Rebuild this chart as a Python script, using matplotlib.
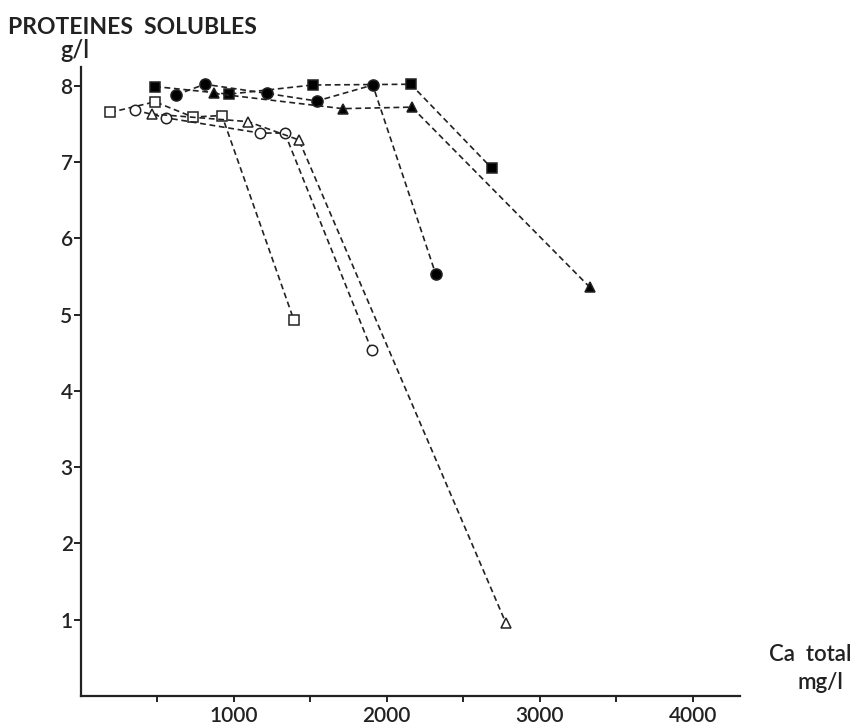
import numpy as np
import matplotlib
matplotlib.use('Agg')
import matplotlib.pyplot as plt

plt.rcParams['font.family'] = ['Lato', 'DejaVu Sans']

# Ca total (mg/l) and soluble proteins (g/l)
sq_full_x = [484, 967, 1516, 2157, 2686]
sq_full_y = [7.99, 7.89, 8.01, 8.02, 6.92]

circ_full_x = [621, 810, 1216, 1542, 1908, 2320]
circ_full_y = [7.88, 8.02, 7.90, 7.80, 8.01, 5.53]

tri_full_x = [869, 1712, 2163, 3327]
tri_full_y = [7.90, 7.70, 7.72, 5.36]

sq_open_x = [190, 484, 732, 922, 1392]
sq_open_y = [7.65, 7.79, 7.59, 7.61, 4.93]

circ_open_x = [353, 556, 1170, 1333, 1902]
circ_open_y = [7.68, 7.58, 7.38, 7.38, 4.53]

tri_open_x = [464, 1092, 1425, 2778]
tri_open_y = [7.63, 7.53, 7.29, 0.96]

x_ticks = [500, 1000, 1500, 2000, 2500, 3000, 3500, 4000]
x_labels = ['', '1000', '', '2000', '', '3000', '', '4000']
y_ticks = [1, 2, 3, 4, 5, 6, 7, 8]

fig = plt.figure(figsize=(8.57, 7.25), dpi=100)
ax = fig.add_axes([0.0945, 0.04, 0.769, 0.868])

dash = (0, (3.5, 2.2))
series = [
    (sq_full_x, sq_full_y, 's', 'k', 7),
    (circ_full_x, circ_full_y, 'o', 'k', 8),
    (tri_full_x, tri_full_y, '^', 'k', 7.5),
    (sq_open_x, sq_open_y, 's', 'white', 6.5),
    (circ_open_x, circ_open_y, 'o', 'white', 7.5),
    (tri_open_x, tri_open_y, '^', 'white', 7),
]
for xs, ys, mk, fc, ms in series:
    ax.plot(xs, ys, linestyle=dash, color='#222222', linewidth=1.2,
            marker=mk, markerfacecolor=fc, markeredgecolor='#222222',
            markeredgewidth=1.1, markersize=ms, zorder=3)

ax.set_xlim(0, 4310)
ax.set_ylim(0, 8.25)
for s in ['top', 'right']:
    ax.spines[s].set_visible(False)
for s in ['left', 'bottom']:
    ax.spines[s].set_linewidth(1.6)
    ax.spines[s].set_color('#222222')

ax.set_xticks(x_ticks)
ax.set_xticklabels(x_labels)
ax.set_yticks(y_ticks)
ax.set_yticklabels([str(v) for v in y_ticks])
ax.tick_params(axis='x', direction='out', length=4, width=1.4, labelsize=15,
               pad=3, colors='#222222')
ax.tick_params(axis='y', direction='out', length=5, width=1.4, labelsize=15,
               pad=1, colors='#222222')
for lab in ax.get_xticklabels() + ax.get_yticklabels():
    lab.set_fontweight('semibold')

fig.text(0.009, 0.962, 'PROTEINES  SOLUBLES', fontsize=16.5,
         fontweight='bold', color='#222222', ha='left', va='center')
fig.text(0.087, 0.930, 'g/l', fontsize=17, fontweight='semibold',
         color='#222222', ha='center', va='center')
fig.text(0.945, 0.097, 'Ca  total', fontsize=16, fontweight='semibold',
         color='#222222', ha='center', va='center')
fig.text(0.957, 0.059, 'mg/l', fontsize=16, fontweight='semibold',
         color='#222222', ha='center', va='center')

fig.savefig('out.png', dpi=100, facecolor='white')
